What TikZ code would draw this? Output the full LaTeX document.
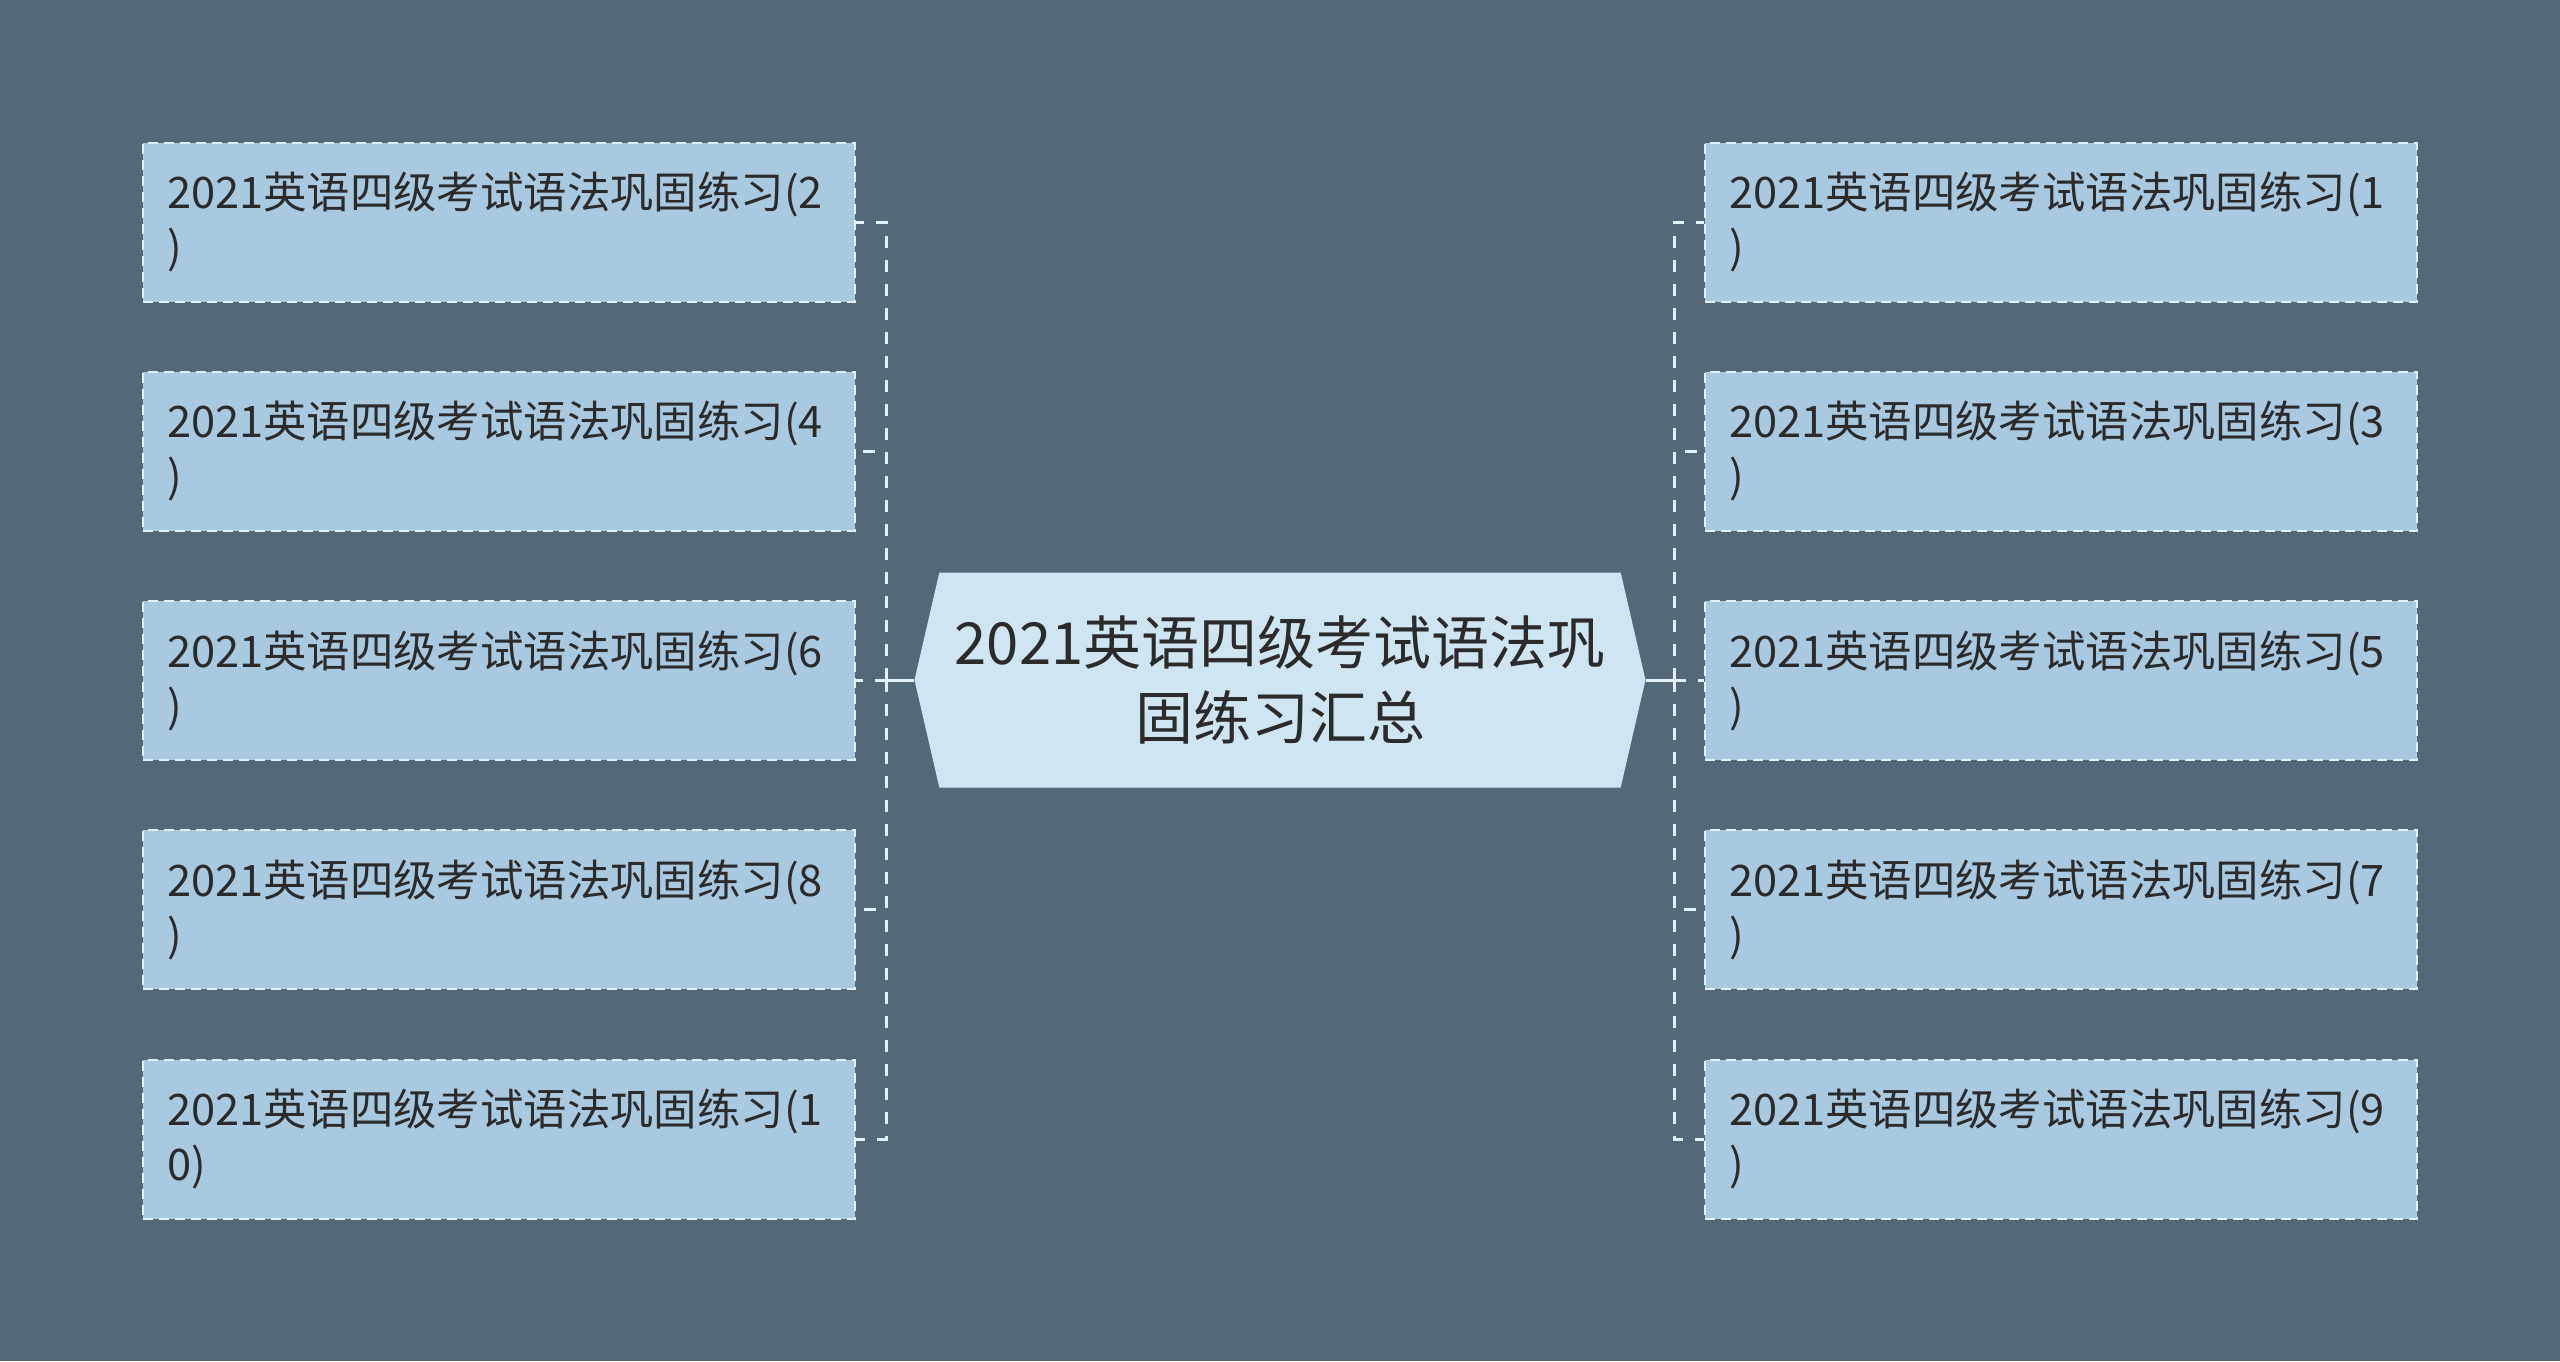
\documentclass[tikz,border=0pt]{standalone}
\usepackage{fontspec}
\setmainfont{Noto Sans CJK SC}
\usepackage{tikz}
\usetikzlibrary{positioning,shapes.symbols}

\definecolor{slatebg}{HTML}{536979}
\definecolor{leafblue}{HTML}{A9C9E0}
\definecolor{rootblue}{HTML}{CFE6F2}
\definecolor{edgeblue}{HTML}{E2F1FA}
\definecolor{inkgray}{HTML}{2B2B2B}

\begin{document}
\begin{tikzpicture}[x=0.5pt,y=0.5pt,on grid,node distance=114.625pt,
        leaf/.style={draw=edgeblue,fill=leafblue,line width=1pt,dash pattern=on 5pt off 3pt,
            text width=332pt,inner xsep=12pt,inner ysep=0pt,minimum height=79.5pt,align=left,
            text=inkgray,font=\fontsize{21.7}{27.5}\selectfont},
        root/.style={signal,signal to=west and east,signal pointer angle=154,fill=rootblue,
            minimum width=365.5pt,minimum height=107.5pt,inner sep=0pt,align=center,
            text=inkgray,font=\fontsize{29}{37.5}\selectfont},
        link/.style={draw=edgeblue,line width=1.5pt,dash pattern=on 6pt off 6pt},
        trunk/.style={draw=edgeblue,line width=1.5pt}]
        \fill[slatebg] (0,0) rectangle (2560,-1361);
        \node[root] (root) at (1280,-680) {2021英语四级考试语法巩\\固练习汇总};
        % left side
        \node[leaf] (q2) at (499,-222) {2021英语四级考试语法巩固练习(2\\)};
        \node[leaf] (q4) [below=of q2] {2021英语四级考试语法巩固练习(4\\)};
        \node[leaf] (q6) [below=of q4] {2021英语四级考试语法巩固练习(6\\)};
        \node[leaf] (q8) [below=of q6] {2021英语四级考试语法巩固练习(8\\)};
        \node[leaf] (q10) [below=of q8] {2021英语四级考试语法巩固练习(1\\0)};
        % right side
        \node[leaf] (q1) at (2061,-222) {2021英语四级考试语法巩固练习(1\\)};
        \node[leaf] (q3) [below=of q1] {2021英语四级考试语法巩固练习(3\\)};
        \node[leaf] (q5) [below=of q3] {2021英语四级考试语法巩固练习(5\\)};
        \node[leaf] (q7) [below=of q5] {2021英语四级考试语法巩固练习(7\\)};
        \node[leaf] (q9) [below=of q7] {2021英语四级考试语法巩固练习(9\\)};
        \coordinate (lj) at (886,-680);
        \coordinate (lt) at (876,-680);
        \coordinate (rj) at (1674,-680);
        \coordinate (rt) at (1684,-680);
        \draw[trunk] (root.west) -- (lt);
        \draw[trunk] (root.east) -- (rt);
        \foreach \q in {q2,q4,q6,q8,q10}
            \draw[link] (lj) |- (\q.east);
        \foreach \q in {q1,q3,q5,q7,q9}
            \draw[link] (rj) |- (\q.west);
\end{tikzpicture}
\end{document}
